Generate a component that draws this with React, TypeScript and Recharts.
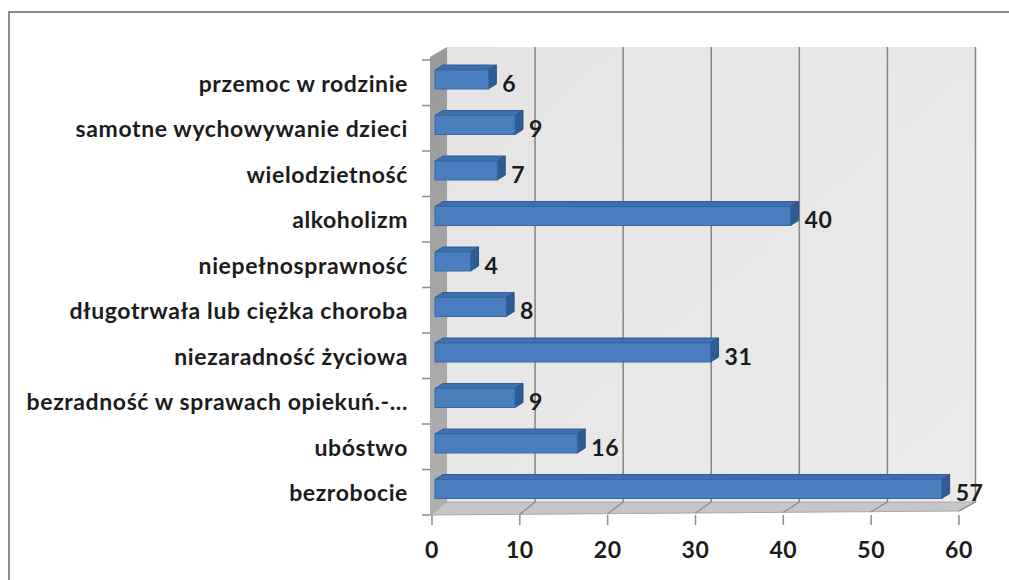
import React from 'react';
import {
  BarChart,
  Bar,
  XAxis,
  YAxis,
  CartesianGrid,
  LabelList,
} from 'recharts';

const categories = [
  'przemoc w rodzinie',
  'samotne wychowywanie dzieci',
  'wielodzietność',
  'alkoholizm',
  'niepełnosprawność',
  'długotrwała lub ciężka choroba',
  'niezaradność życiowa',
  'bezradność w sprawach opiekuń.-...',
  'ubóstwo',
  'bezrobocie',
];

const values = [6, 9, 7, 40, 4, 8, 31, 9, 16, 57];

const xTicks = [0, 10, 20, 30, 40, 50, 60];

const data = categories.map((name, i) => ({ name, value: values[i] }));

const FONT = 'Lato, "Open Sans", sans-serif';
const TEXT = '#1c1c1c';
const FONT_SIZE = 23;
const SPACING = 0.6;

// 3D depth of the wall and of the bars
const WALL_DX = 15;
const WALL_DY = -13;
const BAR_DX = 8;
const BAR_DY = -5;

// draws the side wall, back wall, floor and grid lines from the grid's own coordinates
function WallLine(props: any) {
  const pts: number[] = props.verticalPoints || [];
  const px = props.x1;
  const top = props.y1;
  const bottom = props.y2;
  const left = props.x ?? pts[0];
  const width = props.width ?? pts[pts.length - 1] - pts[0];
  const right = left + width;
  const i = props.index;
  const bx = px + WALL_DX + ((px - left) / width) * 1.5;

  let wall = null;
  if (i === 0) {
    const n = categories.length;
    const h = bottom - top;
    const marks = [];
    for (let k = 0; k <= n; k++) {
      const yy = top + (k * h) / n;
      marks.push(
        <line key={k} x1={left - 10} y1={yy} x2={left - 2} y2={yy} stroke="#8c8c8c" strokeWidth={1.5} />
      );
    }
    wall = (
      <g>
        <defs>
          <linearGradient id="backWall" x1="0" y1="0" x2="1" y2="1">
            <stop offset="0%" stopColor="#e4e4e4" />
            <stop offset="100%" stopColor="#ebebeb" />
          </linearGradient>
          <linearGradient id="sideWall" x1="0" y1="0" x2="0" y2="1">
            <stop offset="0%" stopColor="#9a9a9a" />
            <stop offset="100%" stopColor="#b0b0b0" />
          </linearGradient>
        </defs>
        <rect
          x={left + WALL_DX}
          y={top + WALL_DY}
          width={width + 1.5}
          height={bottom - top}
          fill="url(#backWall)"
        />
        <polygon
          points={`${left - 2},${top - 3} ${left + WALL_DX},${top + WALL_DY} ${left + WALL_DX},${bottom + WALL_DY} ${left - 2},${bottom}`}
          fill="url(#sideWall)"
        />
        <polygon
          points={`${left - 2},${bottom} ${right},${bottom - 4} ${right + WALL_DX + 1.5},${bottom + WALL_DY} ${left + WALL_DX},${bottom + WALL_DY}`}
          fill="#c6c6c6"
          stroke="#a8a8a8"
          strokeWidth={1}
        />
        {marks}
      </g>
    );
  }

  return (
    <g key={props.key}>
      {wall}
      {i > 0 && (
        <>
          <line x1={bx} y1={top + WALL_DY} x2={bx} y2={bottom + WALL_DY} stroke="#858585" strokeWidth={1.5} />
          <line x1={px} y1={bottom - ((px - left) / width) * 4} x2={bx} y2={bottom + WALL_DY} stroke="#8a8a8a" strokeWidth={1.2} />
        </>
      )}
    </g>
  );
}

function Bar3D(props: any) {
  const { x, y, width, height } = props;
  if (!width || width <= 0) return null;
  const fx0 = x + 3;
  const fx1 = x + width * 1.012 + 3;
  const fy = y - 3;
  const h = height;
  return (
    <g>
      <polygon
        points={`${fx0},${fy} ${fx1},${fy} ${fx1 + BAR_DX},${fy + BAR_DY} ${fx0 + BAR_DX},${fy + BAR_DY}`}
        fill="#3e70b0"
        stroke="#2f5d96"
        strokeWidth={1}
      />
      <polygon
        points={`${fx1},${fy} ${fx1 + BAR_DX},${fy + BAR_DY} ${fx1 + BAR_DX},${fy + BAR_DY + h} ${fx1},${fy + h}`}
        fill="#2f5c93"
        stroke="#2a5289"
        strokeWidth={1}
      />
      <rect x={fx0} y={fy} width={fx1 - fx0} height={h} fill="#4a7ebf" stroke="#3a68a3" strokeWidth={1} />
    </g>
  );
}

function ValueLabel(props: any) {
  const { x, y, width, height, value } = props;
  return (
    <text
      x={x + width * 1.012 + 17}
      y={y + height / 2}
      textAnchor="start"
      dominantBaseline="central"
      fontFamily={FONT}
      fontWeight={700}
      fontSize={FONT_SIZE}
      letterSpacing={SPACING}
      fill={TEXT}
    >
      {value}
    </text>
  );
}

function CategoryTick(props: any) {
  const { x, y, payload } = props;
  return (
    <text
      x={x}
      y={y}
      textAnchor="end"
      dominantBaseline="central"
      fontFamily={FONT}
      fontWeight={700}
      fontSize={FONT_SIZE}
      letterSpacing={SPACING}
      fill={TEXT}
    >
      {payload.value}
    </text>
  );
}

function ValueTick(props: any) {
  const { x, y, payload } = props;
  return (
    <text
      x={x}
      y={y + 22}
      textAnchor="middle"
      dominantBaseline="central"
      fontFamily={FONT}
      fontWeight={700}
      fontSize={FONT_SIZE}
      letterSpacing={SPACING}
      fill={TEXT}
    >
      {payload.value}
    </text>
  );
}

export default function App() {
  return (
    <div
      style={{
        position: 'absolute',
        left: 0,
        top: 0,
        width: 1009,
        height: 580,
        background: '#fff',
        overflow: 'hidden',
      }}
    >
      <div
        style={{
          position: 'absolute',
          left: 8,
          top: 11,
          width: 1020,
          height: 600,
          borderTop: '2px solid #8b8b8b',
          borderLeft: '2px solid #8b8b8b',
        }}
      />
      <div style={{ position: 'absolute', left: 0, top: 0 }}>
        <BarChart
          width={1009}
          height={580}
          data={data}
          layout="vertical"
          margin={{ top: 60, right: 50, bottom: 0, left: 0 }}
          barCategoryGap={0}
        >
          <CartesianGrid horizontal={false} vertical={WallLine} fill="none" stroke="none" />
          <XAxis
            type="number"
            domain={[0, 60]}
            ticks={xTicks}
            axisLine={false}
            tickSize={10}
            tickLine={{ stroke: '#8c8c8c', strokeWidth: 1.5 }}
            tick={ValueTick}
            height={65}
            interval={0}
          />
          <YAxis
            type="category"
            dataKey="name"
            width={432}
            axisLine={false}
            tickLine={false}
            tickSize={0}
            tickMargin={24}
            tick={CategoryTick}
            interval={0}
          />
          <Bar dataKey="value" barSize={19} shape={Bar3D} isAnimationActive={false}>
            <LabelList dataKey="value" content={ValueLabel} />
          </Bar>
        </BarChart>
      </div>
    </div>
  );
}
